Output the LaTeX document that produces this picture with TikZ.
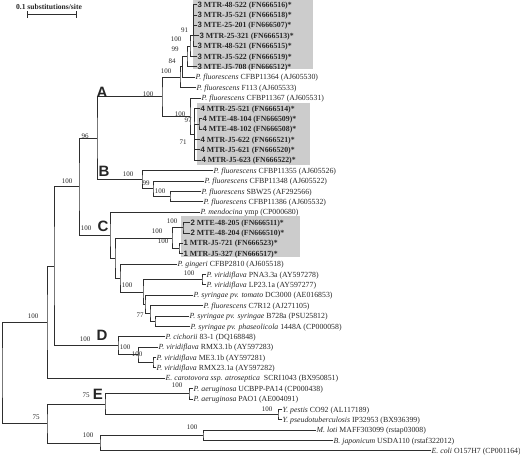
\documentclass[tikz,border=0pt]{standalone}
\usepackage{fontspec}
\setmainfont{Liberation Serif}
\setsansfont{Liberation Sans}
\usetikzlibrary{calc}

\definecolor{branch}{gray}{0.18}
\definecolor{grpgray}{gray}{0.80}

% leaf labels
\newcommand{\leaffont}{\fontsize{7.8}{8}\selectfont}
\newcommand{\grp}[3]{{\sffamily\bfseries #1} \textbf{#2 (#3)*}}
\newcommand{\spn}[1]{\textit{#1}}

\tikzset{
  leaf/.style={anchor=west, inner sep=0.5pt, font=\leaffont, text=black!85,
               text height=1.5ex, text depth=0.35ex},
  bs/.style={font=\fontsize{7}{7}\selectfont, inner sep=0pt, text=black!85},
  clade/.style={font=\fontsize{15}{15}\sffamily\bfseries, inner sep=0pt, text=black!85},
  br/.style={draw=branch, line width=0.9pt, line cap=rect}
}

\begin{document}
\begin{tikzpicture}[x=1pt, y=-10.38pt]

\useasboundingbox (0,-0.443) rectangle (520,43.49);

% --- shaded isolate groups ---
\fill[grpgray] (193,-0.44) rectangle (313,6.2);
\fill[grpgray] (197,9.48) rectangle (310,15.42);
\fill[grpgray] (181,20.4) rectangle (300,24.3);

% --- scale bar ---
\node[font=\fontsize{7.6}{8}\selectfont\bfseries, text=black!85] (sbl) at (49,0.2) {0.1 substitutions/site};
\coordinate (sb1) at (27,0.96);
\coordinate (sb2) at (77,0.96);
\draw[br, line width=0.7pt, |-|] (sb1) -- (sb2);

% --- leaves ---
\node[leaf] (l0)  at (197,0)  {\grp{3}{MTR-48-522}{FN666516}};
\node[leaf] (l1)  at (197,1)  {\grp{3}{MTR-J5-521}{FN666518}};
\node[leaf] (l2)  at (197,2)  {\grp{3}{MTE-25-201}{FN666507}};
\node[leaf] (l3)  at (199,3)  {\grp{3}{MTR-25-321}{FN666513}};
\node[leaf] (l4)  at (197,4)  {\grp{3}{MTR-48-521}{FN666515}};
\node[leaf] (l5)  at (197,5)  {\grp{3}{MTR-J5-522}{FN666519}};
\node[leaf] (l6)  at (197,6)  {\grp{3}{MTE-J5-708}{FN666512}};
\node[leaf] (l7)  at (195,7)  {\spn{P. fluorescens} CFBP11364 (AJ605530)};
\node[leaf] (l8)  at (196,8)  {\spn{P. fluorescens} F113 (AJ605533)};
\node[leaf] (l9)  at (201,9)  {\spn{P. fluorescens} CFBP11367 (AJ605531)};
\node[leaf] (l10) at (200,10) {\grp{4}{MTR-25-521}{FN666514}};
\node[leaf] (l11) at (202,11) {\grp{4}{MTE-48-104}{FN666509}};
\node[leaf] (l12) at (202,12) {\grp{4}{MTE-48-102}{FN666508}};
\node[leaf] (l13) at (200,13) {\grp{4}{MTR-J5-622}{FN666521}};
\node[leaf] (l14) at (200,14) {\grp{4}{MTR-J5-621}{FN666520}};
\node[leaf] (l15) at (201,15) {\grp{4}{MTR-J5-623}{FN666522}};
\node[leaf] (l16) at (213,16) {\spn{P. fluorescens} CFBP11355 (AJ605526)};
\node[leaf] (l17) at (204,17) {\spn{P. fluorescens} CFBP11348 (AJ605522)};
\node[leaf] (l18) at (201,18) {\spn{P. fluorescens} SBW25 (AF292566)};
\node[leaf] (l19) at (203,19) {\spn{P. fluorescens} CFBP11386 (AJ605532)};
\node[leaf] (l20) at (200,20) {\spn{P. mendocina} ymp (CP000680)};
\node[leaf] (l21) at (190,21) {\grp{2}{MTE-48-205}{FN666511}};
\node[leaf] (l22) at (190,22) {\grp{2}{MTE-48-204}{FN666510}};
\node[leaf] (l23) at (183,23) {\grp{1}{MTR-J5-721}{FN666523}};
\node[leaf] (l24) at (183,24) {\grp{1}{MTR-J5-327}{FN666517}};
\node[leaf] (l25) at (177,25) {\spn{P. gingeri} CFBP2810 (AJ605518)};
\node[leaf] (l26) at (206,26) {\spn{P. viridiflava} PNA3.3a (AY597278)};
\node[leaf] (l27) at (206,27) {\spn{P. viridiflava} LP23.1a (AY597277)};
\node[leaf] (l28) at (193,28) {\spn{P. syringae pv. tomato} DC3000 (AE016853)};
\node[leaf] (l29) at (203,29) {\spn{P. fluorescens} C7R12 (AJ271105)};
\node[leaf] (l30) at (189,30) {\spn{P. syringae pv. syringae} B728a (PSU25812)};
\node[leaf] (l31) at (190,31) {\spn{P. syringae pv. phaseolicola} 1448A (CP000058)};
\node[leaf] (l32) at (165,32) {\spn{P. cichorii} 83-1 (DQ168848)};
\node[leaf] (l33) at (158,33) {\spn{P. viridiflava} RMX3.1b (AY597283)};
\node[leaf] (l34) at (156,34) {\spn{P. viridiflava} ME3.1b (AY597281)};
\node[leaf] (l35) at (156,35) {\spn{P. viridiflava} RMX23.1a (AY597282)};
\node[leaf] (l36) at (165,36) {\spn{E. carotovora ssp. atroseptica}\ \ SCRI1043 (BX950851)};
\node[leaf] (l37) at (193,37) {\spn{P. aeruginosa} UCBPP-PA14 (CP000438)};
\node[leaf] (l38) at (193,38) {\spn{P. aeruginosa} PAO1 (AE004091)};
\node[leaf] (l39) at (282,39) {\spn{Y. pestis} CO92 (AL117189)};
\node[leaf] (l40) at (282,40) {\spn{Y. pseudotuberculosis} IP32953 (BX936399)};
\node[leaf] (l41) at (316,41) {\spn{M. loti} MAFF303099 (rstap03008)};
\node[leaf] (l42) at (333,42) {\spn{B. japonicum} USDA110 (rstaf322012)};
\node[leaf] (l43) at (431,43) {\spn{E. coli} O157H7 (CP001164)};

% --- internal nodes ---
\coordinate (n91)   at (193,3);
\coordinate (nT100) at (190,4);
\coordinate (nT99)  at (187,5);
\coordinate (nT84)  at (182.5,6);
\coordinate (nA1)   at (180,7);
\coordinate (n97)   at (199,11.5);
\coordinate (n71)   at (194,12.5);
\coordinate (nA2)   at (190,10.75);
\coordinate (nA)    at (162,8.875);
\coordinate (nB3)   at (170,18.5);
\coordinate (nB2)   at (153,17.75);
\coordinate (nB)    at (142,16.875);
\coordinate (nAB)   at (97,12.875);
\coordinate (ng2)   at (183,21.5);
\coordinate (ng1)   at (179,23.5);
\coordinate (ng21)  at (172,22.5);
\coordinate (nsyr)  at (155,30.5);
\coordinate (n77)   at (150,29.75);
\coordinate (nC5)   at (145,28.875);
\coordinate (nPL)   at (202,26.5);
\coordinate (nC4)   at (143,27.69);
\coordinate (nC3)   at (120,26.34);
\coordinate (nC2)   at (115,24.42);
\coordinate (nC)    at (110,22.21);
\coordinate (nABC)  at (79,17.54);
\coordinate (nD3)   at (153,34.5);
\coordinate (nD2)   at (138,33.75);
\coordinate (nD)    at (118,32.875);
\coordinate (nN1)   at (54,25.2);
\coordinate (nN0)   at (47,30.6);
\coordinate (nPa)   at (189,37.5);
\coordinate (nY)    at (278,39.5);
\coordinate (nE)    at (105,38.5);
\coordinate (nR)    at (203,41.5);
\coordinate (nM)    at (100,42.25);
\coordinate (nN0b)  at (47,40.375);
\coordinate (nRoot) at (2,35.49);

% --- branches ---
% clade A
\draw[br] (l0.west) -| (n91) |- (l4.west);
\draw[br] (n91) |- (l1.west);
\draw[br] (n91) |- (l2.west);
\draw[br] (n91) -- (l3.west);
\draw[br] (n91) -| (nT100) |- (l5.west);
\draw[br] (nT100) -| (nT99) |- (l6.west);
\draw[br] (nT99) -| (nT84) |- (l7.west);
\draw[br] (nT84) -| (nA1) |- (l8.west);
\draw[br] (l11.west) -| (n97) |- (l12.west);
\draw[br] (l10.west) -| (n71) |- (l15.west);
\draw[br] (n71) |- (n97);
\draw[br] (n71) |- (l13.west);
\draw[br] (n71) |- (l14.west);
\draw[br] (l9.west) -| (nA2) |- (n71);
\draw[br] (nA1) -| (nA) |- (nA2);
% clade B
\draw[br] (l18.west) -| (nB3) |- (l19.west);
\draw[br] (l17.west) -| (nB2) |- (nB3);
\draw[br] (l16.west) -| (nB) |- (nB2);
\draw[br] (nA) -| (nAB) |- (nB);
% clade C
\draw[br] (l21.west) -| (ng2) |- (l22.west);
\draw[br] (l23.west) -| (ng1) |- (l24.west);
\draw[br] (ng2) -| (ng21) |- (ng1);
\draw[br] (l26.west) -| (nPL) |- (l27.west);
\draw[br] (l30.west) -| (nsyr) |- (l31.west);
\draw[br] (l29.west) -| (n77) |- (nsyr);
\draw[br] (l28.west) -| (nC5) |- (n77);
\draw[br] (nPL) -| (nC4) |- (nC5);
\draw[br] (l25.west) -| (nC3) |- (nC4);
\draw[br] (ng21) -| (nC2) |- (nC3);
\draw[br] (l20.west) -| (nC) |- (nC2);
\draw[br] (nAB) -| (nABC) |- (nC);
% clade D
\draw[br] (l34.west) -| (nD3) |- (l35.west);
\draw[br] (l33.west) -| (nD2) |- (nD3);
\draw[br] (l32.west) -| (nD) |- (nD2);
\draw[br] (nABC) -| (nN1) |- (nD);
\draw[br] (nN1) -| (nN0) |- (l36.west);
% clade E and outgroups
\draw[br] (l37.west) -| (nPa) |- (l38.west);
\draw[br] (l39.west) -| (nY) |- (l40.west);
\draw[br] (nPa) -| (nE) |- (nY);
\draw[br] (l41.west) -| (nR) |- (l42.west);
\draw[br] (nR) -| (nM) |- (l43.west);
\draw[br] (nE) -| (nN0b) |- (nM);
\draw[br] (nN0) -| (nRoot) |- (nN0b);

% --- clade letters ---
\node[clade] (cA) at (102,8.43)  {A};
\node[clade] (cB) at (104,16.09) {B};
\node[clade] (cC) at (103,21.36) {C};
\node[clade] (cD) at (102,31.9)  {D};
\node[clade] (cE) at (98,37.55)  {E};

% --- bootstrap values ---
\node[bs] at (184.5,2.45) {91};
\node[bs] at (176,3.3)    {100};
\node[bs] at (175,4.31)   {99};
\node[bs] at (172,5.46)   {84};
\node[bs] at (166,6.42)   {100};
\node[bs] at (148,8.62)   {100};
\node[bs] at (85,12.64)   {96};
\node[bs] at (180,10.54)  {100};
\node[bs] at (188,11.11)  {97};
\node[bs] at (183,13.22)  {71};
\node[bs] at (128,16.38)  {100};
\node[bs] at (146,17.24)  {99};
\node[bs] at (160,18.0)   {100};
\node[bs] at (67,17.05)   {100};
\node[bs] at (86,21.55)   {100};
\node[bs] at (172,20.88)  {100};
\node[bs] at (157,21.84)  {100};
\node[bs] at (163,22.8)   {100};
\node[bs] at (127,27.0)   {100};
\node[bs] at (189,25.86)  {100};
\node[bs] at (140,29.89)  {77};
\node[bs] at (33,29.98)   {100};
\node[bs] at (85,32.28)   {100};
\node[bs] at (125,33.05)  {100};
\node[bs] at (137,33.72)  {100};
\node[bs] at (86,37.64)   {75};
\node[bs] at (36,39.75)   {75};
\node[bs] at (177,36.69)  {100};
\node[bs] at (267,38.98)  {100};
\node[bs] at (88,41.48)   {100};
\node[bs] at (192,40.71)  {100};

\end{tikzpicture}
\end{document}
